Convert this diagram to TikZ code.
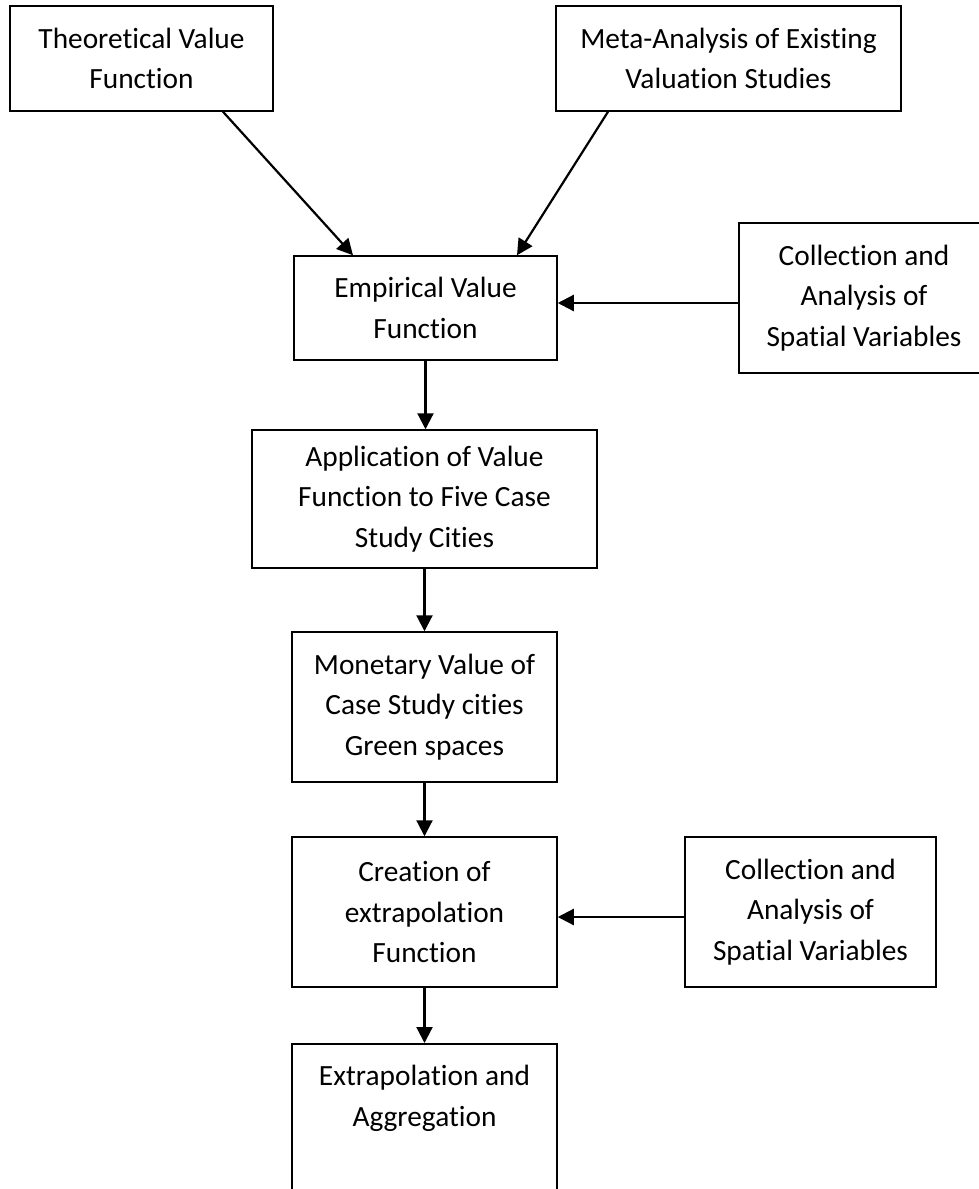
\documentclass[tikz,border=0pt]{standalone}
\usepackage{fontspec}
\setmainfont{Carlito}[RawFeature={-liga;-clig;-calt;-dlig;-rlig;-ccmp}]
\usepackage {tikz}
\usetikzlibrary {positioning}
\usetikzlibrary{calc}
\usetikzlibrary{arrows.meta}
\tikzset{
    block/.style = {rectangle,draw,line width=0.85pt,align=center,inner sep=2pt,
        font=\fontsize{16.7}{23.2}\selectfont},
    feed/.style = {line width=1.25pt,-{Triangle[length=0.32cm,width=0.32cm]}}}
\begin{document}
\begin{tikzpicture}
    \useasboundingbox (0,0) rectangle (19.58,-23.78);
    \clip (0,0) rectangle (19.58,-23.78);
    \path (2.83,-1.17) node[block,minimum width=5.26cm,minimum height=2.1cm] (theo) {Theoretical Value\\Function}
        + (11.74,0) node[block,minimum width=6.9cm,minimum height=2.1cm] (meta) {Meta-Analysis of Existing\\Valuation Studies}
        + (5.68,-4.99) node[block,minimum width=5.26cm,minimum height=2.08cm] (emp) {Empirical Value\\Function}
        + (14.45,-4.79) node[block,minimum width=5cm,minimum height=3cm] (collA) {Collection and\\Analysis of\\Spatial Variables}
        + (5.66,-8.81) node[block,minimum width=6.9cm,minimum height=2.76cm] (app) {Application of Value\\Function to Five Case\\Study Cities}
        + (5.66,-12.97) node[block,minimum width=5.3cm,minimum height=3cm] (mon) {Monetary Value of\\Case Study cities\\Green spaces}
        + (5.66,-17.07) node[block,minimum width=5.3cm,minimum height=3cm] (crea) {Creation of\\extrapolation\\Function}
        + (13.38,-17.07) node[block,minimum width=5.02cm,minimum height=3cm] (collB) {Collection and\\Analysis of\\Spatial Variables}
        + (5.66,-19.69) node[block,anchor=north,minimum width=5.3cm,minimum height=3.72cm] (extr) {Extrapolation and\\Aggregation\\\mbox{}\\\mbox{}};
    \draw[feed] ([xshift=1.63cm]theo.south) -- ([xshift=-1.45cm]emp.north);
    \draw[feed] ([xshift=-2.41cm]meta.south) -- ([xshift=1.83cm]emp.north);
    \draw[feed] ([yshift=-0.1cm]collA.west) -- ([yshift=-0.1cm]collA.west -| emp.east);
    \draw[feed] (emp.south) -- (emp.south |- app.north);
    \draw[feed] (app.south) -- (app.south |- mon.north);
    \draw[feed] (mon.south) -- (mon.south |- crea.north);
    \draw[feed] ([yshift=-0.1cm]collB.west) -- ([yshift=-0.1cm]crea.east);
    \draw[feed] (crea.south) -- (crea.south |- extr.north);
\end{tikzpicture}
\end{document}
